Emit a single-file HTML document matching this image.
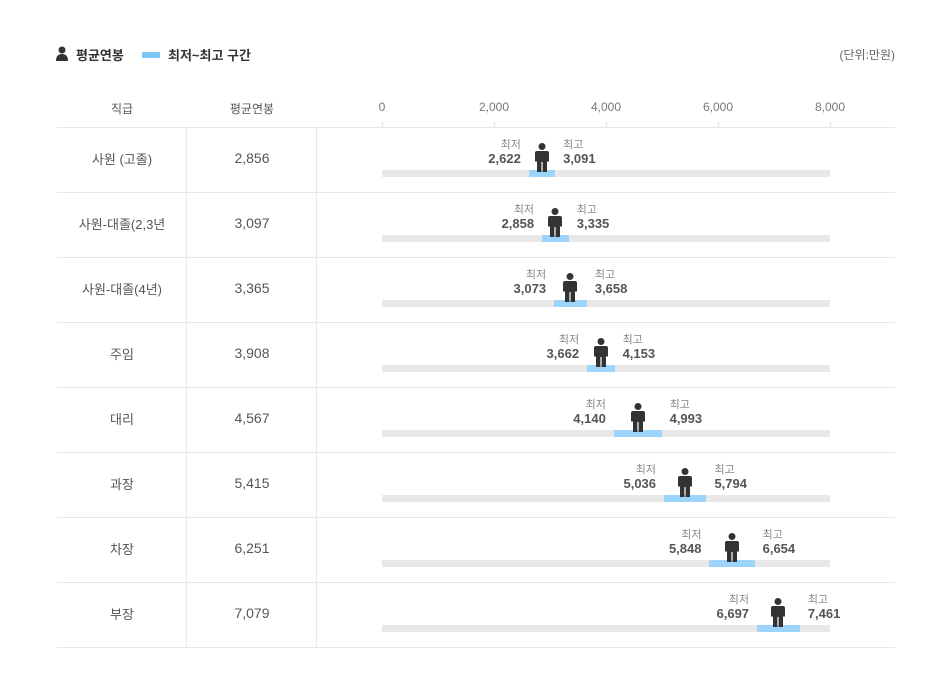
<!DOCTYPE html>
<html><head><meta charset="utf-8"><style>
body{margin:0;background:#fff;font-family:"Liberation Sans","Noto Sans CJK KR",sans-serif;}
#c{position:relative;width:951px;height:697px;overflow:hidden}
.a{position:absolute;white-space:nowrap}
</style></head><body><div id="c">
<svg class="a" style="left:55px;top:46px" width="14" height="16"><circle cx="7" cy="4" r="3.5" fill="#333"/><path d="M1 15 Q1 8 7 8 Q13 8 13 15Z" fill="#333"/></svg>
<div class="a" style="left:76px;top:45px;font-size:13px;font-weight:bold;color:#333">평균연봉</div>
<div class="a" style="left:142px;top:52px;width:18px;height:6px;background:#7cc8f8"></div>
<div class="a" style="left:168px;top:45px;font-size:13px;font-weight:bold;color:#333">최저~최고 구간</div>
<div class="a" style="right:56px;top:46px;font-size:12px;color:#666">(단위:만원)</div>
<div class="a" style="left:57px;width:130px;top:100px;text-align:center;font-size:12px;color:#555">직급</div>
<div class="a" style="left:187px;width:130px;top:100px;text-align:center;font-size:12px;color:#555">평균연봉</div>
</div>
<script>
const ranks=["사원 (고졸)","사원-대졸(2,3년","사원-대졸(4년)","주임","대리","과장","차장","부장"];
const avgs=[2856,3097,3365,3908,4567,5415,6251,7079];
const mins=[2622,2858,3073,3662,4140,5036,5848,6697];
const maxs=[3091,3335,3658,4153,4993,5794,6654,7461];
const ticks=[0,2000,4000,6000,8000];
const c=document.getElementById('c');
const X=v=>382+v*448/8000;
const fmt=v=>v.toLocaleString('en-US');
function div(css,txt){const d=document.createElement('div');d.className='a';d.style.cssText=css;if(txt!=null)d.textContent=txt;c.appendChild(d);return d;}
ticks.forEach(t=>{
 const d=div(`left:${X(t)-30}px;width:60px;top:100px;text-align:center;font-size:12px;color:#777`,fmt(t));
 
 
 const l=div(`left:${X(t)}px;top:122px;width:1px;height:5px;background:#e4e4e4`);
 
 
});
const l0=div('left:57px;top:127px;width:838px;height:1px;background:#e8e8e8');


ranks.forEach((r,i)=>{
 const top=127+i*65;
 let d=div(`left:57px;width:130px;top:${top+22}px;text-align:center;font-size:13px;color:#555`,r);
 
 
 d=div(`left:187px;width:130px;top:${top+23}px;text-align:center;font-size:14px;color:#555`,fmt(avgs[i]));
 
 
 d=div(`left:186px;top:${top+1}px;width:1px;height:64px;background:#e8e8e8`);
 
 
 d=div(`left:316px;top:${top+1}px;width:1px;height:64px;background:#e8e8e8`);
 
 
 d=div(`left:57px;top:${top+65}px;width:838px;height:1px;background:#e8e8e8`);
 
 
 d=div(`left:${X(0)}px;top:${top+43}px;width:${X(8000)-X(0)}px;height:7px;background:#e8e8e8`);
 
 
 d=div(`left:${X(mins[i])}px;top:${top+43}px;width:${X(maxs[i])-X(mins[i])}px;height:7px;background:#9dd4fb`);
 
 
 d=div(`right:${951-X(mins[i])+8}px;top:${top+9}px;font-size:11px;color:#888;text-align:right`,'최저');
 
 
 d=div(`right:${951-X(mins[i])+8}px;top:${top+24}px;font-size:13px;font-weight:bold;color:#555;text-align:right`,fmt(mins[i]));
 
 
 d=div(`left:${X(maxs[i])+8}px;top:${top+9}px;font-size:11px;color:#888`,'최고');
 
 
 d=div(`left:${X(maxs[i])+8}px;top:${top+24}px;font-size:13px;font-weight:bold;color:#555`,fmt(maxs[i]));
 
 
 const s=document.createElementNS('http://www.w3.org/2000/svg','svg');
 s.setAttribute('class','a');s.setAttribute('width','16');s.setAttribute('height','29');
 s.style.left=(X(avgs[i])-8)+'px';s.style.top=(top+16)+'px';
 s.innerHTML='<circle cx="8" cy="3.5" r="3.5" fill="#333"/><path d="M3 8 H13 Q15 8 15 10 V18.5 H13 V29 H8.6 V19 H7.4 V29 H3 V18.5 H1 V10 Q1 8 3 8Z" fill="#333"/>';
 
 
 c.appendChild(s);
});
</script></body></html>
